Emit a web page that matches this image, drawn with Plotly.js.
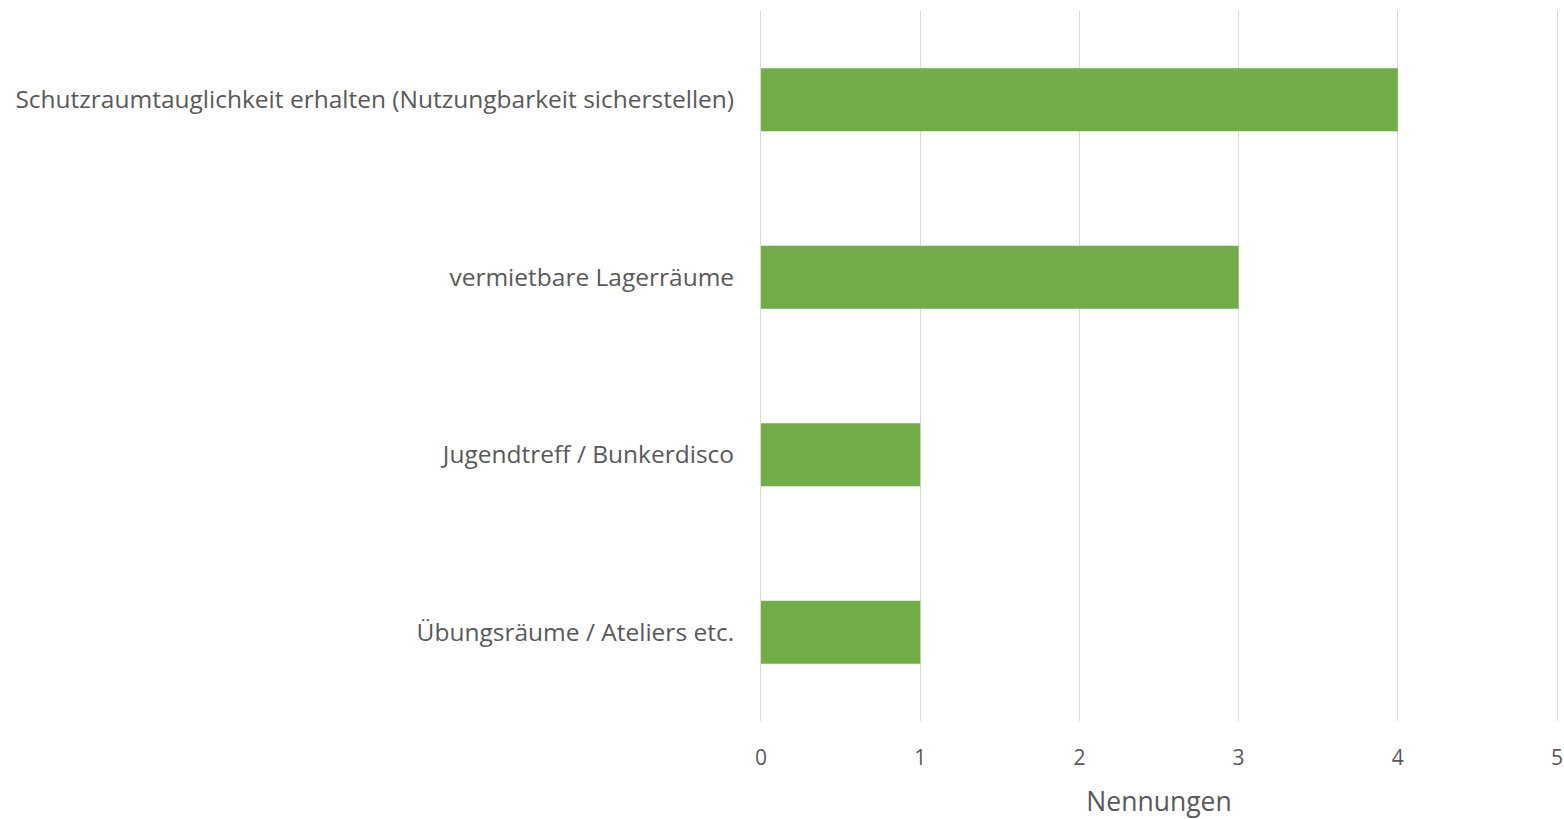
<!DOCTYPE html>
<html>
<head>
<meta charset="utf-8">
<script src="https://cdn.plot.ly/plotly-3.0.1.min.js"></script>
<style>html,body{margin:0;padding:0;background:#fff;}#chart{width:1564px;height:819px;}</style>
</head>
<body>
<div id="chart"></div>
<script>
const categories = [
  "Übungsräume / Ateliers etc.",
  "Jugendtreff / Bunkerdisco",
  "vermietbare Lagerräume",
  "Schutzraumtauglichkeit erhalten (Nutzungbarkeit sicherstellen)"
];
const values = [1, 1, 3, 4];
const xTicks = [0, 1, 2, 3, 4, 5];

const trace = {
  type: "bar",
  orientation: "h",
  y: categories,
  x: values,
  marker: {color: "#70AD47"},
  width: 0.355,
  hoverinfo: "x+y"
};

const layout = {
  width: 1564,
  height: 819,
  margin: {l: 761, r: 7, t: 11, b: 98},
  paper_bgcolor: "#fff",
  plot_bgcolor: "#fff",
  font: {family: "'Open Sans', sans-serif", color: "#595959"},
  showlegend: false,
  xaxis: {
    range: [0, 5],
    tickvals: xTicks,
    ticktext: xTicks.map(String),
    showgrid: true,
    gridcolor: "#D9D9D9",
    gridwidth: 1,
    zeroline: false,
    showline: false,
    ticks: "",
    tickfont: {size: 21, color: "#595959"},
    ticklabelstandoff: 22,
    title: {text: "Nennungen", font: {size: 26.5, color: "#595959"}, standoff: 22}
  },
  yaxis: {
    range: [-0.5, 3.5],
    showgrid: false,
    zeroline: false,
    showline: true,
    mirror: true,
    linecolor: "#D9D9D9",
    linewidth: 1,
    ticks: "",
    tickfont: {size: 24.5, color: "#595959"},
    ticklabelstandoff: 21
  }
};

Plotly.newPlot("chart", [trace], layout, {displayModeBar: false, staticPlot: true});
</script>
</body>
</html>
